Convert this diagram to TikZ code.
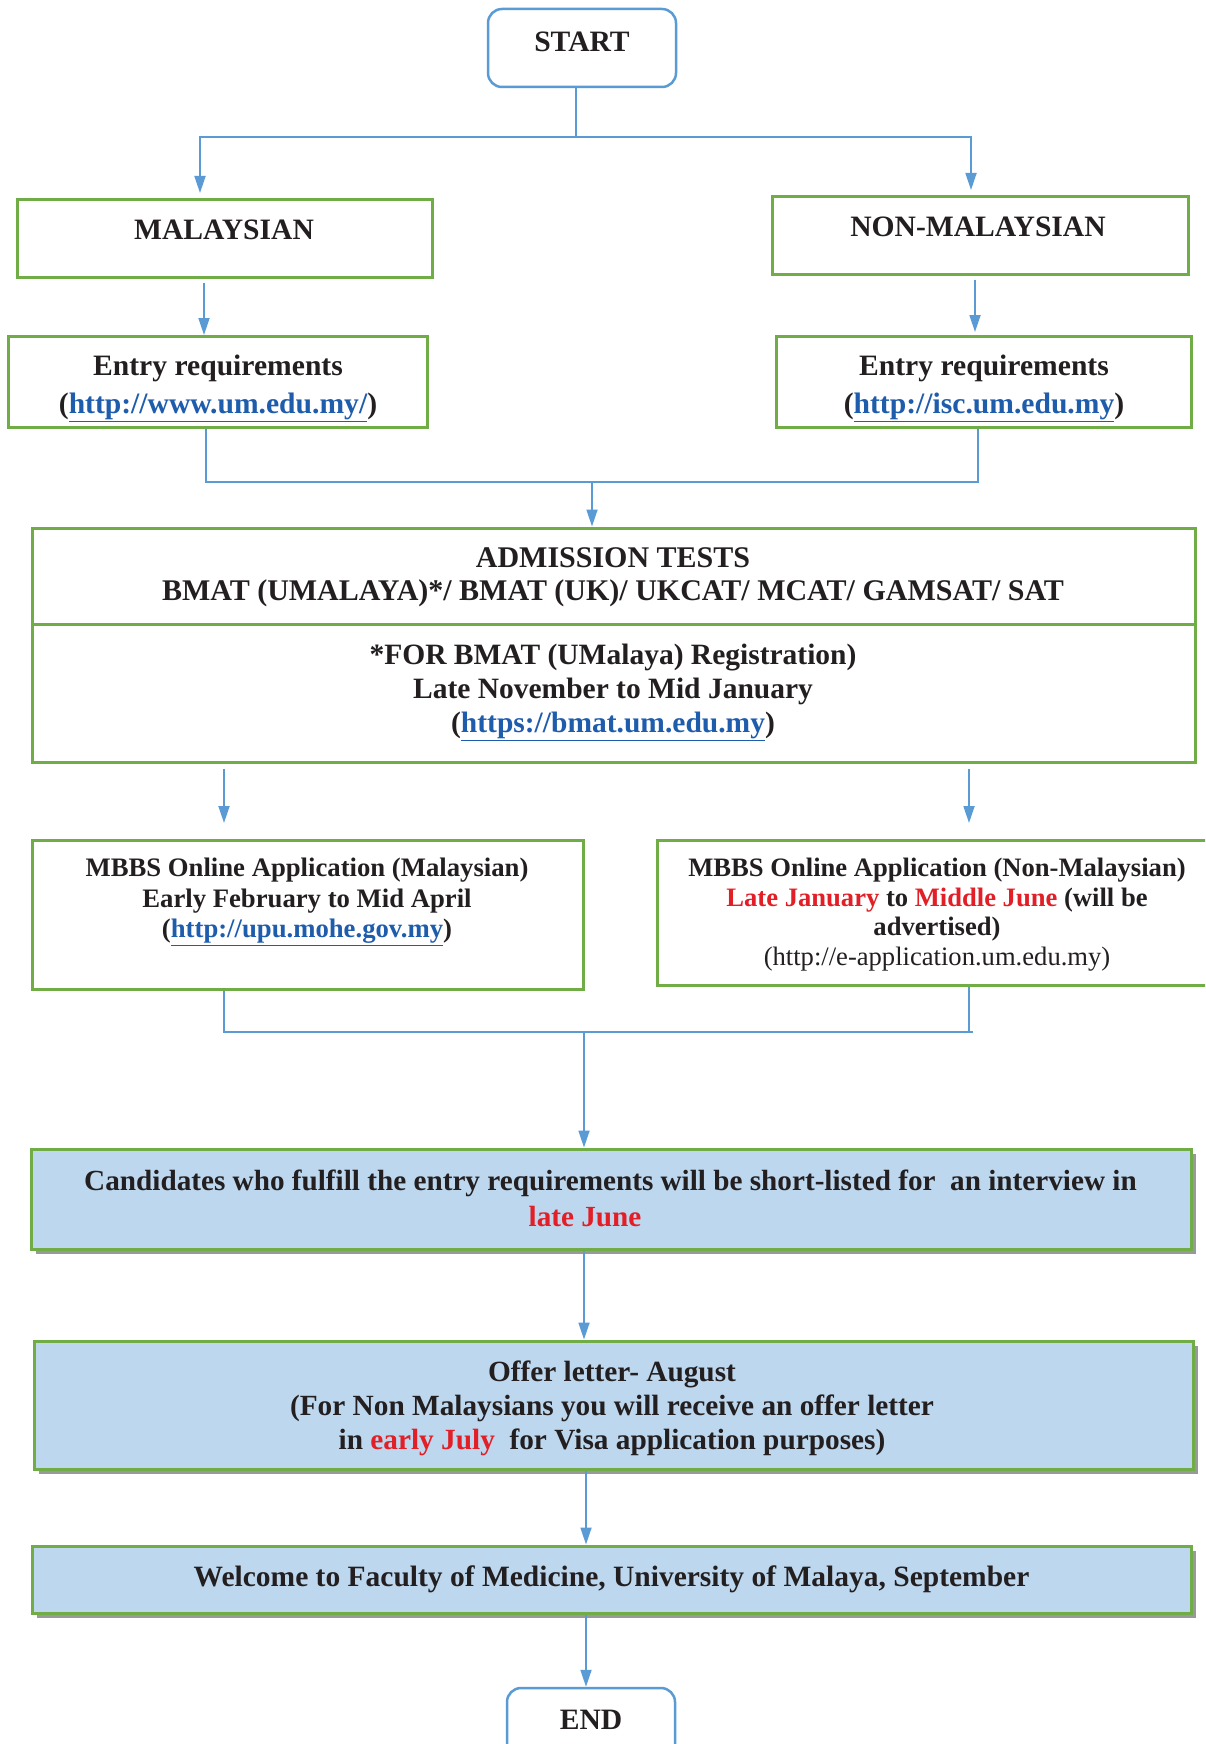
\documentclass[tikz,border=0pt]{standalone}
\usepackage{fontspec}
\setmainfont{Liberation Serif}
\usetikzlibrary{arrows.meta,shadows}
\definecolor{gborder}{RGB}{112,173,71}
\definecolor{bline}{RGB}{91,155,213}
\definecolor{bfill}{RGB}{189,215,238}
\definecolor{lblue}{RGB}{30,92,172}
\definecolor{dred}{RGB}{226,30,38}
\definecolor{txt}{RGB}{35,31,32}
\newcommand{\lnk}[1]{{\color{lblue}\underline{#1}}}
\newcommand{\rd}[1]{{\color{dred}#1}}
\newcommand{\fs}[2]{\fontsize{#1}{#2}\selectfont}
\begin{document}
\begin{tikzpicture}[x=1pt,y=-1pt,
 gbox/.style={draw=gborder, line width=3pt, rectangle, inner sep=0pt},
 fbox/.style={gbox, fill=bfill, drop shadow={shadow xshift=5pt, shadow yshift=-5pt, fill=black, opacity=0.4}},
 tbox/.style={draw=bline, line width=2.5pt, rounded corners=14pt, rectangle, inner sep=0pt},
 txtn/.style={align=center, text=txt, font=\bfseries\fs{29.6}{38}, inner sep=0pt},
 conn/.style={draw=bline, line width=1.8pt},
 arr/.style={conn, -{Triangle[length=17pt,width=11pt]}},
]
\clip (0,0) rectangle (1205,1744);
\fill[white] (0,0) rectangle (1205,1744);

% boxes
\node[tbox, minimum width=188, minimum height=78] (start) at (582,48) {};
\node[gbox, minimum width=415, minimum height=77] (mal) at (224.5,238.5) {};
\node[gbox, minimum width=416, minimum height=77] (nmal) at (980,235.5) {};
\node[gbox, minimum width=419, minimum height=91] (entL) at (217.5,381.5) {};
\node[gbox, minimum width=415, minimum height=91] (entR) at (983.5,381.5) {};
\node[gbox, minimum width=1163, minimum height=96] (adm1) at (613.5,576) {};
\node[gbox, minimum width=1163, minimum height=138] (adm2) at (613.5,693) {};
\node[gbox, minimum width=551, minimum height=149] (mb1) at (307.5,914.5) {};
\node[gbox, minimum width=555, minimum height=145] (mb2) at (934.5,912.5) {};
\node[fbox, minimum width=1160, minimum height=100] (cand) at (611,1199) {};
\node[fbox, minimum width=1159, minimum height=128] (offer) at (613.5,1405) {};
\node[fbox, minimum width=1159, minimum height=67] (welc) at (611.5,1579.5) {};
\node[tbox, minimum width=168, minimum height=78] (endn) at (591,1727) {};

% texts
\node[txtn] (startT) at (582,42) {START};
\node[txtn] (malT) at (224,230) {MALAYSIAN};
\node[txtn] (nmalT) at (978,227) {NON-MALAYSIAN};
\node[txtn] (entLT) at (218,388) {Entry requirements\\(\lnk{http://www.um.edu.my/})};
\node[txtn] (entRT) at (984,388) {Entry requirements\\(\lnk{http://isc.um.edu.my})};
\node[txtn, font=\bfseries\fs{30}{33.5}] (adm1T) at (613,577.5) {ADMISSION TESTS\\BMAT (UMALAYA)*/ BMAT (UK)/ UKCAT/ MCAT/ GAMSAT/ SAT};
\node[txtn, font=\bfseries\fs{29.5}{34}] (adm2T) at (613,692) {*FOR BMAT (UMalaya) Registration)\\Late November to Mid January\\(\lnk{https://bmat.um.edu.my})};
\node[txtn, font=\bfseries\fs{26.7}{30.5}] (mb1T) at (307,902) {MBBS Online Application (Malaysian)\\Early February to Mid April\\(\lnk{http://upu.mohe.gov.my})};
\node[txtn, font=\bfseries\fs{26.6}{29.6}] (mb2T) at (937,914.5) {MBBS Online Application (Non-Malaysian)\\\rd{Late January} to \rd{Middle June} (will be\\advertised)\\{\mdseries (http://e-application.um.edu.my)}};
\node[txtn, font=\bfseries\fs{29.2}{36}] (candT) at (610.5,1198.5) {Candidates who fulfill the entry requirements will be short-listed for\ \ an interview in\\\rd{late June}\hspace*{51pt}};
\node[txtn, font=\bfseries\fs{29.3}{34}] (offerT) at (612,1408) {Offer letter- August\\(For Non Malaysians you will receive an offer letter\\in \rd{early July}\ \ for Visa application purposes)};
\node[txtn, font=\bfseries\fs{29.5}{34}] (welcT) at (611.5,1579) {Welcome to Faculty of Medicine, University of Malaya, September};
\node[txtn] (endT) at (591,1720) {END};

% junction coordinates
\coordinate (j1) at (576,137);
\coordinate (tipL) at (200,193);
\coordinate (tipR) at (971,190);
\coordinate (c4) at (204,335);
\coordinate (c5) at (975,332);
\coordinate (jL) at (206,482);
\coordinate (jR) at (978,482);
\coordinate (jC) at (592,482);
\coordinate (a1s) at (224,769);
\coordinate (a1e) at (224,823);
\coordinate (a2s) at (969,769);
\coordinate (a2e) at (969,823);
\coordinate (k1) at (224,1032);
\coordinate (k2) at (969,1032);
\coordinate (k3) at (973,1032);
\coordinate (kC) at (584,1032);
\coordinate (v1) at (584,0);
\coordinate (v2) at (586,0);

% connectors
\draw[conn] (start.south -| j1) -- (j1);
\draw[arr] (j1) -| (tipL);
\draw[arr] (j1) -| (tipR);
\draw[arr, shorten <=4pt] (mal.south -| c4) -- (c4);
\draw[arr, shorten <=4pt] (nmal.south -| c5) -- (c5);
\draw[conn] (entL.south -| jL) -- (jL) -- (jR) -- (entR.south -| jR);
\draw[arr] (jC) -- (adm1.north -| jC);
\draw[arr] (a1s) -- (a1e);
\draw[arr] (a2s) -- (a2e);
\draw[conn] (mb1.south -| k1) -- (k1) -- (k3);
\draw[conn] (mb2.south -| k2) -- (k2);
\draw[arr] (kC) -- (cand.north -| kC);
\draw[arr] (cand.south -| v1) -- (offer.north -| v1);
\draw[arr] (offer.south -| v2) -- (welc.north -| v2);
\draw[arr] (welc.south -| v2) -- (endn.north -| v2);
\end{tikzpicture}
\end{document}
